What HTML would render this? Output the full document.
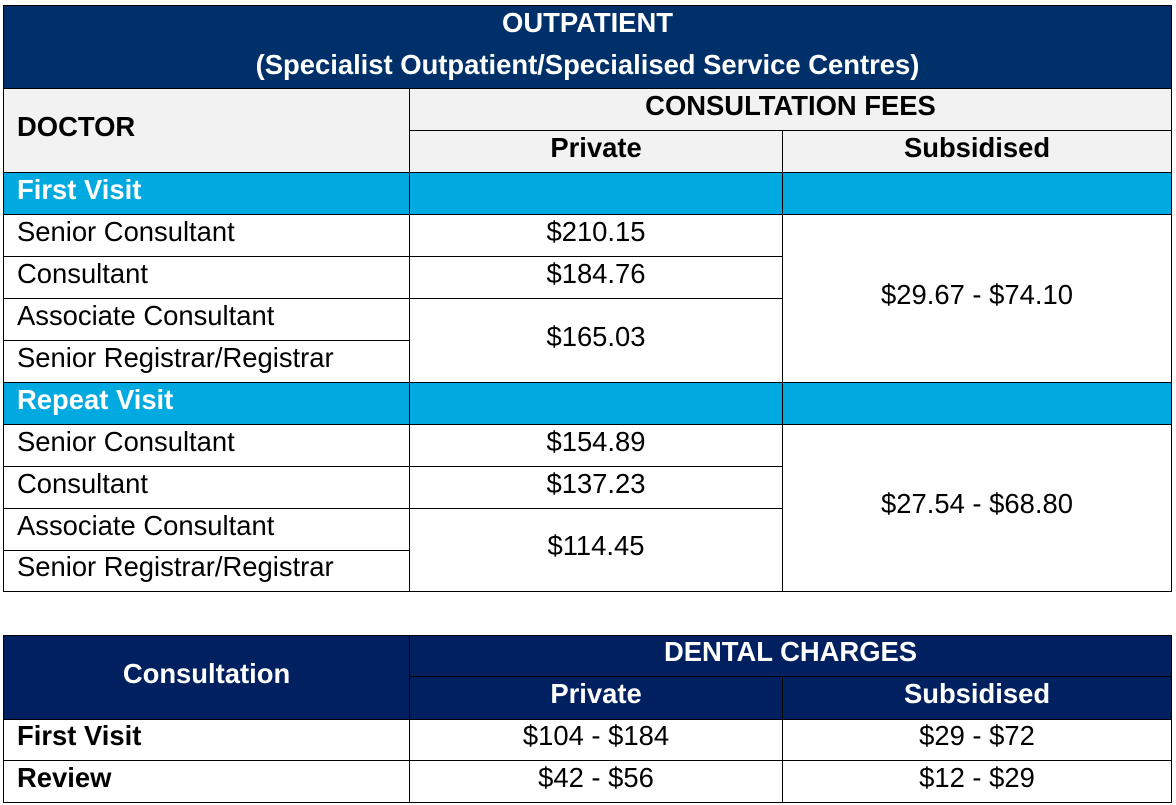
<!DOCTYPE html>
<html><head><style>
body{margin:0;width:1176px;height:805px;background:#fff;position:relative;overflow:hidden;font-family:"Liberation Sans",Arial,sans-serif;}
.c{position:absolute;box-sizing:border-box;border:1px solid #000;font-size:27.4px;display:flex;align-items:center;white-space:nowrap;padding-bottom:8px}
.l{padding-left:13px}
.m{justify-content:center}
.b{font-weight:bold}
.d{background:#003069;color:#fff;font-weight:bold}
.n{background:#00205f;color:#fff;font-weight:bold}
.g{background:#f2f2f2;font-weight:bold}
.s{background:#00a9e0;color:#fff;font-weight:bold}
</style></head><body>
<div class="c d m" style="left:3px;top:5px;width:1169px;height:84px;flex-direction:column;line-height:42px;padding-bottom:7px"><div>OUTPATIENT</div><div>(Specialist Outpatient/Specialised Service Centres)</div></div>
<div class="c g l" style="left:3px;top:88px;width:407px;height:85px">DOCTOR</div>
<div class="c g m" style="left:409px;top:88px;width:763px;height:43px">CONSULTATION FEES</div>
<div class="c g m" style="left:409px;top:130px;width:374px;height:43px">Private</div>
<div class="c g m" style="left:782px;top:130px;width:390px;height:43px">Subsidised</div>

<div class="c s l" style="left:3px;top:172px;width:407px;height:43px">First Visit</div>
<div class="c s" style="left:409px;top:172px;width:374px;height:43px"></div>
<div class="c s" style="left:782px;top:172px;width:390px;height:43px"></div>
<div class="c l" style="left:3px;top:214px;width:407px;height:43px">Senior Consultant</div>
<div class="c m" style="left:409px;top:214px;width:374px;height:43px">$210.15</div>
<div class="c l" style="left:3px;top:256px;width:407px;height:43px">Consultant</div>
<div class="c m" style="left:409px;top:256px;width:374px;height:43px">$184.76</div>
<div class="c l" style="left:3px;top:298px;width:407px;height:43px">Associate Consultant</div>
<div class="c l" style="left:3px;top:340px;width:407px;height:43px">Senior Registrar/Registrar</div>
<div class="c m" style="left:409px;top:298px;width:374px;height:85px">$165.03</div>
<div class="c m" style="left:782px;top:214px;width:390px;height:169px">$29.67 - $74.10</div>

<div class="c s l" style="left:3px;top:382px;width:407px;height:43px">Repeat Visit</div>
<div class="c s" style="left:409px;top:382px;width:374px;height:43px"></div>
<div class="c s" style="left:782px;top:382px;width:390px;height:43px"></div>
<div class="c l" style="left:3px;top:424px;width:407px;height:43px">Senior Consultant</div>
<div class="c m" style="left:409px;top:424px;width:374px;height:43px">$154.89</div>
<div class="c l" style="left:3px;top:466px;width:407px;height:43px">Consultant</div>
<div class="c m" style="left:409px;top:466px;width:374px;height:43px">$137.23</div>
<div class="c l" style="left:3px;top:508px;width:407px;height:43px">Associate Consultant</div>
<div class="c l" style="left:3px;top:550px;width:407px;height:42px">Senior Registrar/Registrar</div>
<div class="c m" style="left:409px;top:508px;width:374px;height:84px">$114.45</div>
<div class="c m" style="left:782px;top:424px;width:390px;height:168px">$27.54 - $68.80</div>

<div class="c n m" style="left:3px;top:635px;width:407px;height:85px">Consultation</div>
<div class="c n m" style="left:409px;top:635px;width:763px;height:42px">DENTAL CHARGES</div>
<div class="c n m" style="left:409px;top:676px;width:374px;height:44px">Private</div>
<div class="c n m" style="left:782px;top:676px;width:390px;height:44px">Subsidised</div>
<div class="c b l" style="left:3px;top:719px;width:407px;height:42px">First Visit</div>
<div class="c m" style="left:409px;top:719px;width:374px;height:42px">$104 - $184</div>
<div class="c m" style="left:782px;top:719px;width:390px;height:42px">$29 - $72</div>
<div class="c b l" style="left:3px;top:760px;width:407px;height:43px">Review</div>
<div class="c m" style="left:409px;top:760px;width:374px;height:43px">$42 - $56</div>
<div class="c m" style="left:782px;top:760px;width:390px;height:43px">$12 - $29</div>
</body></html>
